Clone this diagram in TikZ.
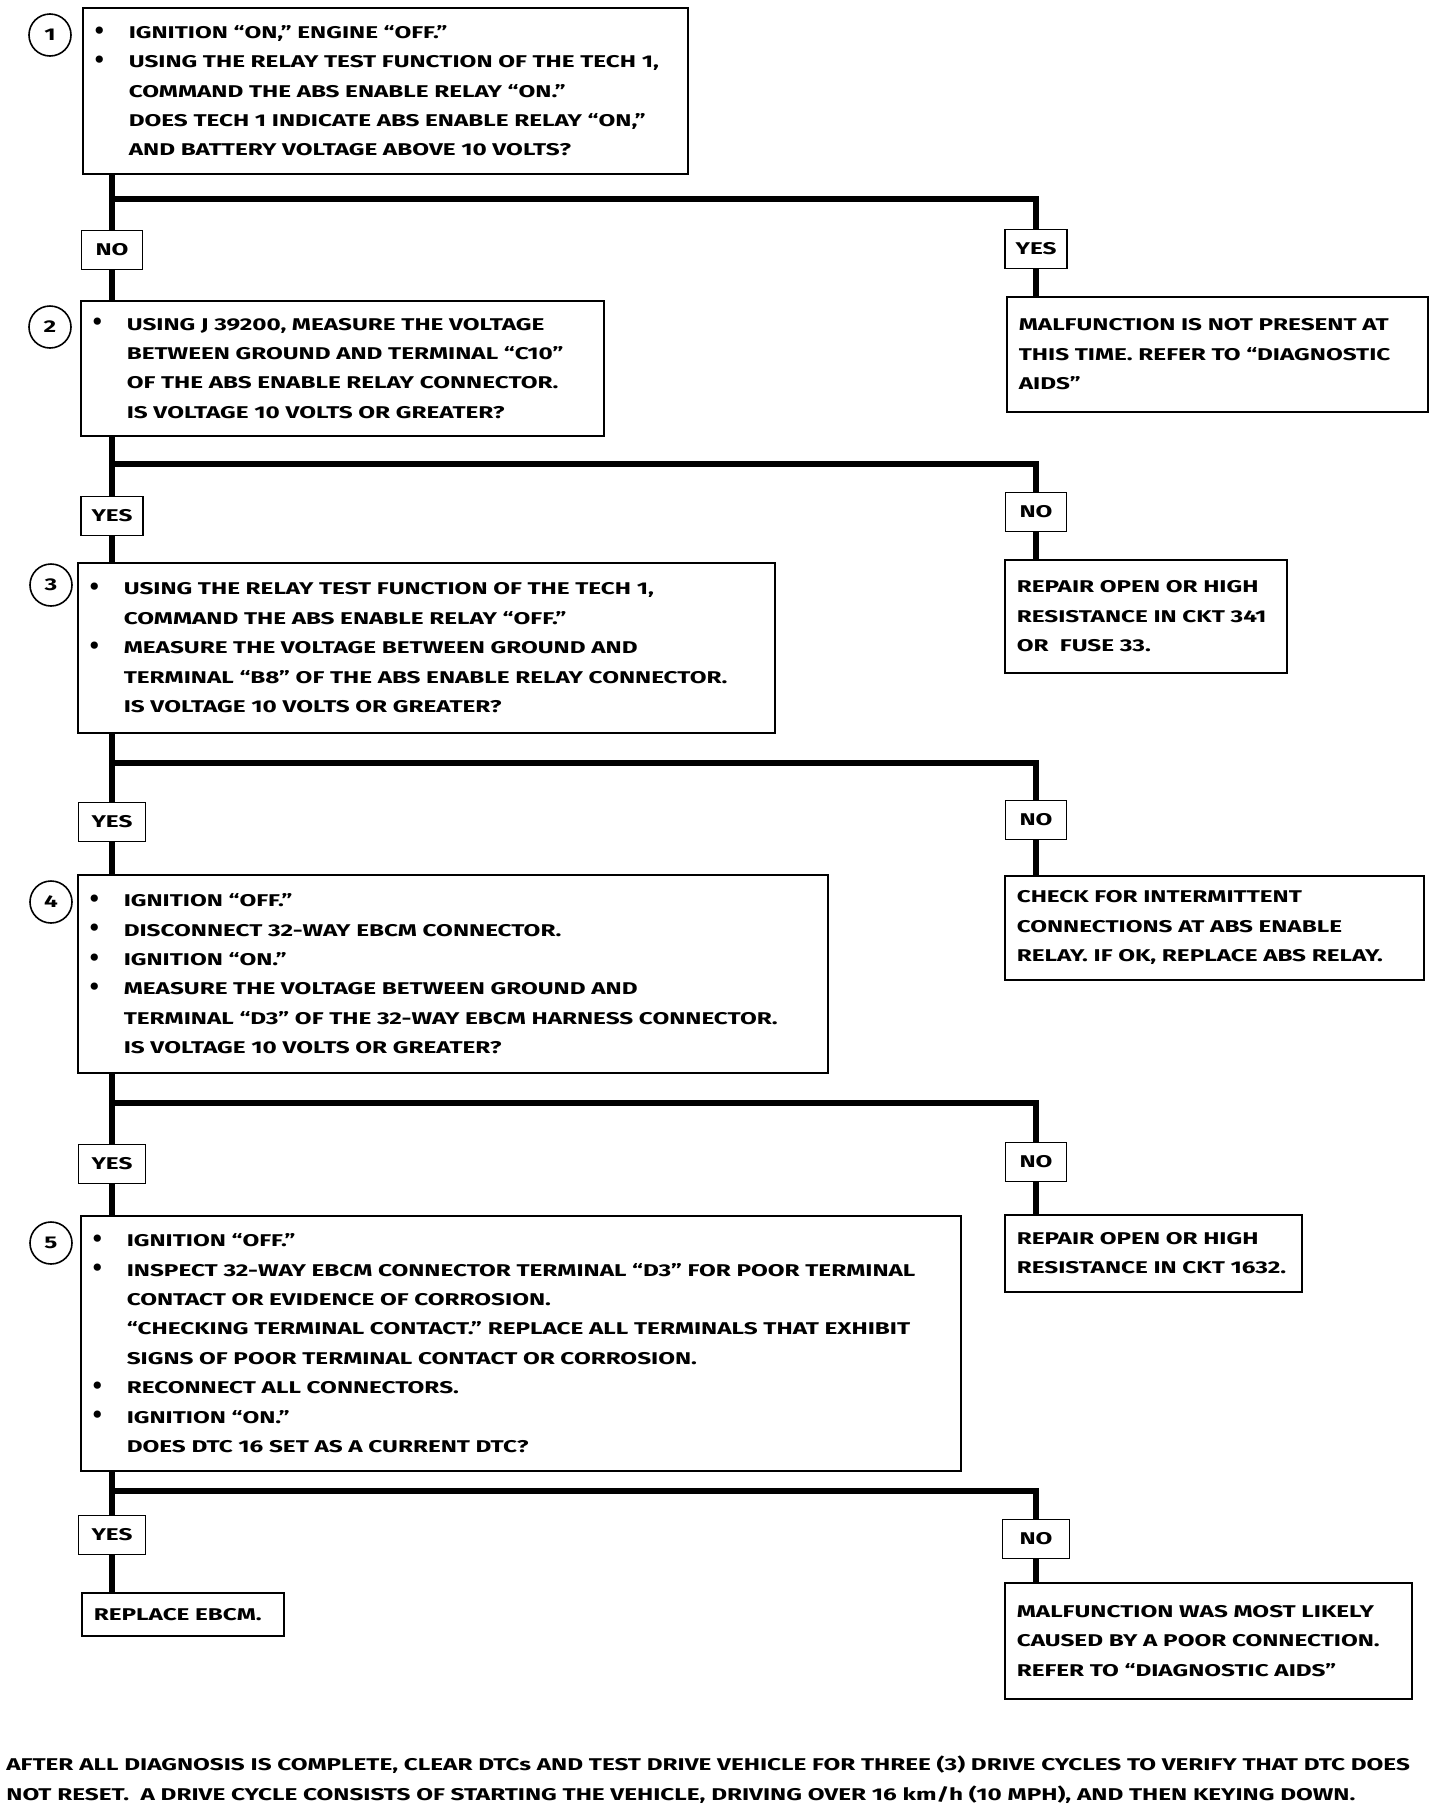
\documentclass[tikz,border=0pt]{standalone}
\usepackage{fontspec}
\setmainfont{Fira Sans}[FakeStretch=1.43]
\newfontfamily\dotfont{Fira Sans}
\usetikzlibrary{positioning}

\newcommand{\bul}{\hspace*{6pt}\makebox[17pt][l]{\raisebox{-0.4pt}{\dotfont\fontsize{13}{14}\selectfont\textbullet}}}
\newcommand{\ind}{\hspace*{23pt}}
\newcommand{\pad}{\hspace*{6pt}}

\begin{document}
\begin{tikzpicture}[x=0.5pt, y=-0.5pt,
  every node/.style={font=\fontsize{8.5}{14.7}\selectfont\bfseries},
  stepbox/.style={draw, line width=0.8pt, anchor=north west, align=left, inner xsep=0pt, inner ysep=0pt},
  num/.style={circle, draw, line width=0.8pt, minimum size=21pt, inner sep=0pt},
  answer/.style={draw, line width=0.8pt, minimum width=30.5pt, minimum height=19.5pt, inner sep=2pt},
  link/.style={line width=2.6pt}]
\useasboundingbox (0,0) rectangle (1440,1810);

\node[stepbox, text width=302.5pt, minimum height=83pt] (b1) at (82,7)
  {\bul IGNITION “ON,” ENGINE “OFF.”\\
   \bul USING THE RELAY TEST FUNCTION OF THE TECH 1,\\
   \ind COMMAND THE ABS ENABLE RELAY “ON.”\\
   \ind DOES TECH 1 INDICATE ABS ENABLE RELAY “ON,”\\
   \ind AND BATTERY VOLTAGE ABOVE 10 VOLTS?};
\node[stepbox, text width=261.5pt, minimum height=67.5pt] (b2) at (80,300)
  {\bul USING J 39200, MEASURE THE VOLTAGE\\
   \ind BETWEEN GROUND AND TERMINAL “C10”\\
   \ind OF THE ABS ENABLE RELAY CONNECTOR.\\
   \ind IS VOLTAGE 10 VOLTS OR GREATER?};
\node[stepbox, text width=348.5pt, minimum height=85pt] (b3) at (77,562)
  {\bul USING THE RELAY TEST FUNCTION OF THE TECH 1,\\
   \ind COMMAND THE ABS ENABLE RELAY “OFF.”\\
   \bul MEASURE THE VOLTAGE BETWEEN GROUND AND\\
   \ind TERMINAL “B8” OF THE ABS ENABLE RELAY CONNECTOR.\\
   \ind IS VOLTAGE 10 VOLTS OR GREATER?};
\node[stepbox, text width=375pt, minimum height=99pt] (b4) at (77,874)
  {\bul IGNITION “OFF.”\\
   \bul DISCONNECT 32-WAY EBCM CONNECTOR.\\
   \bul IGNITION “ON.”\\
   \bul MEASURE THE VOLTAGE BETWEEN GROUND AND\\
   \ind TERMINAL “D3” OF THE 32-WAY EBCM HARNESS CONNECTOR.\\
   \ind IS VOLTAGE 10 VOLTS OR GREATER?};
\node[stepbox, text width=440pt, minimum height=127.5pt] (b5) at (80,1215)
  {\bul IGNITION “OFF.”\\
   \bul INSPECT 32-WAY EBCM CONNECTOR TERMINAL “D3” FOR POOR TERMINAL\\
   \ind CONTACT OR EVIDENCE OF CORROSION.\\
   \ind “CHECKING TERMINAL CONTACT.” REPLACE ALL TERMINALS THAT EXHIBIT\\
   \ind SIGNS OF POOR TERMINAL CONTACT OR CORROSION.\\
   \bul RECONNECT ALL CONNECTORS.\\
   \bul IGNITION “ON.”\\
   \ind DOES DTC 16 SET AS A CURRENT DTC?};

\node[num] (c1) at (50,35) {1};
\node[num] (c2) at (50,327) {2};
\node[num] (c3) at (51,585) {3};
\node[num] (c4) at (51,902) {4};
\node[num] (c5) at (51,1243) {5};

\node[stepbox, text width=210.5pt, minimum height=57.5pt] (r1) at (1006,296)
  {\pad MALFUNCTION IS NOT PRESENT AT\\
   \pad THIS TIME. REFER TO “DIAGNOSTIC\\
   \pad AIDS”};
\node[stepbox, text width=141pt, minimum height=56.5pt] (r2) at (1004,559)
  {\pad REPAIR OPEN OR HIGH\\
   \pad RESISTANCE IN CKT 341\\
   \pad OR\ \ FUSE 33.};
\node[stepbox, text width=209.5pt, minimum height=52pt] (r3) at (1004,875)
  {\pad CHECK FOR INTERMITTENT\\
   \pad CONNECTIONS AT ABS ENABLE\\
   \pad RELAY. IF OK, REPLACE ABS RELAY.};
\node[stepbox, text width=148.5pt, minimum height=38.5pt] (r4) at (1004,1214)
  {\pad REPAIR OPEN OR HIGH\\
   \pad RESISTANCE IN CKT 1632.};
\node[stepbox, text width=203.5pt, minimum height=58pt] (r5) at (1004,1582)
  {\pad MALFUNCTION WAS MOST LIKELY\\
   \pad CAUSED BY A POOR CONNECTION.\\
   \pad REFER TO “DIAGNOSTIC AIDS”};
\node[stepbox, text width=101pt, minimum height=21.5pt] (l5) at (81,1592)
  {\pad REPLACE EBCM.};

\node[answer] (a1) at (112,250) {NO};
\node[answer, minimum width=31pt] (e1) at (1036,249) {YES};
\node[answer, minimum width=31pt] (a2) at (112,516) {YES};
\node[answer] (e2) at (1036,512) {NO};
\node[answer, minimum width=33.5pt] (a3) at (112,822) {YES};
\node[answer] (e3) at (1036,820) {NO};
\node[answer, minimum width=33.5pt] (a4) at (112,1164) {YES};
\node[answer] (e4) at (1036,1162) {NO};
\node[answer, minimum width=33.5pt] (a5) at (112,1535) {YES};
\node[answer, minimum width=33.5pt] (e5) at (1036,1539) {NO};

\coordinate (j1) at (112,199);
\coordinate (j2) at (112,464);
\coordinate (j3) at (112,763);
\coordinate (j4) at (112,1103);
\coordinate (j5) at (112,1491);

\draw[link] (b1.south -| a1) -- (a1.north);
\draw[link] (a1.south) -- (b2.north -| a1);
\draw[link] (j1) -| (e1.north);
\draw[link] (e1.south) -- (r1.north -| e1);
\draw[link] (b2.south -| a2) -- (a2.north);
\draw[link] (a2.south) -- (b3.north -| a2);
\draw[link] (j2) -| (e2.north);
\draw[link] (e2.south) -- (r2.north -| e2);
\draw[link] (b3.south -| a3) -- (a3.north);
\draw[link] (a3.south) -- (b4.north -| a3);
\draw[link] (j3) -| (e3.north);
\draw[link] (e3.south) -- (r3.north -| e3);
\draw[link] (b4.south -| a4) -- (a4.north);
\draw[link] (a4.south) -- (b5.north -| a4);
\draw[link] (j4) -| (e4.north);
\draw[link] (e4.south) -- (r4.north -| e4);
\draw[link] (b5.south -| a5) -- (a5.north);
\draw[link] (a5.south) -- (l5.north -| a5);
\draw[link] (j5) -| (e5.north);
\draw[link] (e5.south) -- (r5.north -| e5);

\node[anchor=base west, inner sep=0pt] (f1) at (6,1770)
  {AFTER ALL DIAGNOSIS IS COMPLETE, CLEAR DTCs AND TEST DRIVE VEHICLE FOR THREE (3) DRIVE CYCLES TO VERIFY THAT DTC DOES};
\node[anchor=base west, inner sep=0pt] (f2) at (6,1800)
  {NOT RESET.\ \ A DRIVE CYCLE CONSISTS OF STARTING THE VEHICLE, DRIVING OVER 16 km/h (10 MPH), AND THEN KEYING DOWN.};
\end{tikzpicture}
\end{document}
